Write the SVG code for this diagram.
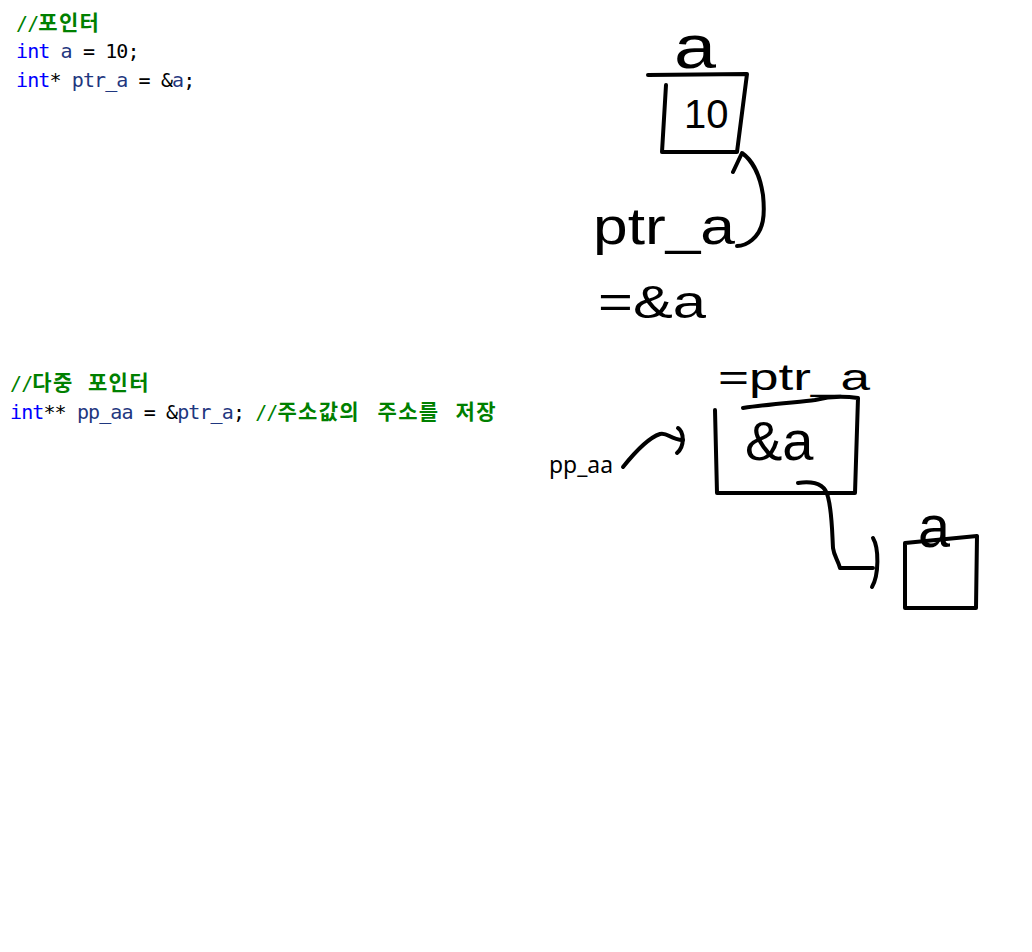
<svg xmlns="http://www.w3.org/2000/svg" width="1032" height="952" viewBox="0 0 1032 952">
<style>
.code{font-family:"DejaVu Sans Mono","Liberation Mono",monospace;font-size:20px;letter-spacing:-0.9px;fill:#000}
.kw{fill:#0000FF}
.id{fill:#1F377F}
.cm{fill:#008000}
.ko{font-family:"Noto Sans CJK KR",sans-serif;font-size:21px;letter-spacing:1.3px;font-weight:bold;fill:#008000}
.hand{font-family:"Liberation Sans","DejaVu Sans",sans-serif;fill:#000}
.pen{fill:none;stroke:#000;stroke-width:4;stroke-linecap:round;stroke-linejoin:round}
</style>
<rect width="1032" height="952" fill="#fff"/>
<g id="code1">
<text class="code" x="16" y="30"><tspan class="cm">//</tspan><tspan class="ko" x="38.3">포인터</tspan></text>
<text class="code" x="16" y="58"><tspan class="kw">int</tspan> <tspan class="id">a</tspan> = 10;</text>
<text class="code" x="16" y="87"><tspan class="kw">int</tspan>* <tspan class="id">ptr_a</tspan> = &amp;<tspan class="id">a</tspan>;</text>
</g>
<g id="code2">
<text class="code" x="10" y="390"><tspan class="cm">//</tspan><tspan class="ko" x="32.3">다중</tspan><tspan class="ko" x="88">포인터</tspan></text>
<text class="code" x="10" y="419"><tspan class="kw">int</tspan>** <tspan class="id">pp_aa</tspan> = &amp;<tspan class="id">ptr_a</tspan>; <tspan class="cm">//</tspan><tspan class="ko" x="277.4">주소값의</tspan><tspan class="ko" x="377.6">주소를</tspan><tspan class="ko" x="455.6">저장</tspan></text>
</g>
<g id="node-a">
<path class="pen" d="M648,75 L747,74 L737,152 L662,152 M666,85 L662,152"/>
<text class="hand" x="674" y="68" font-size="62" textLength="42" lengthAdjust="spacingAndGlyphs">a</text>
<text class="hand" x="684" y="128" font-size="40">10</text>
</g>
<g id="node-ptr-label">
<text class="hand" x="593" y="244" font-size="52" textLength="142" lengthAdjust="spacingAndGlyphs">ptr_a</text>
<text class="hand" x="598" y="318" font-size="46" textLength="108" lengthAdjust="spacingAndGlyphs">=&amp;a</text>
</g>
<g id="node-ptr-box">
<text class="hand" x="718" y="390" font-size="36" textLength="152" lengthAdjust="spacingAndGlyphs">=ptr_a</text>
<path class="pen" d="M743,408 C770,404 800,402 815,400 C830,396 845,396 858,398 L855,493 L717,493 L715,410"/>
<text class="hand" x="745" y="460" font-size="56">&amp;a</text>
</g>
<g id="node-pp-aa">
<text x="549" y="473" font-family="Noto Sans, Liberation Sans, sans-serif" font-size="24" textLength="64" lengthAdjust="spacingAndGlyphs" fill="#000">pp_aa</text>
</g>
<g id="node-a2">
<path class="pen" d="M905,543 L977,536 L976,608 L905,608 Z"/>
<text class="hand" x="918" y="547" font-size="60" textLength="32" lengthAdjust="spacingAndGlyphs">a</text>
</g>
<g id="connectors">
<path class="pen" d="M733,172 L742,153 C752,160 760,175 763,195 C765,215 764,230 752,240 C746,245 740,246 737,246"/>
<path class="pen" d="M623,467 C635,452 648,438 660,434 C668,432 670,440 683,440"/>
<path class="pen" d="M678,428 C684,432 685,446 677,453"/>
<path class="pen" d="M798,483 C812,481 825,483 828,497 C832,512 832,530 833,548 C834,556 838,560 840,568 L873,568"/>
<path class="pen" d="M873,538 C879,548 879,575 872,587"/>
</g>
</svg>
